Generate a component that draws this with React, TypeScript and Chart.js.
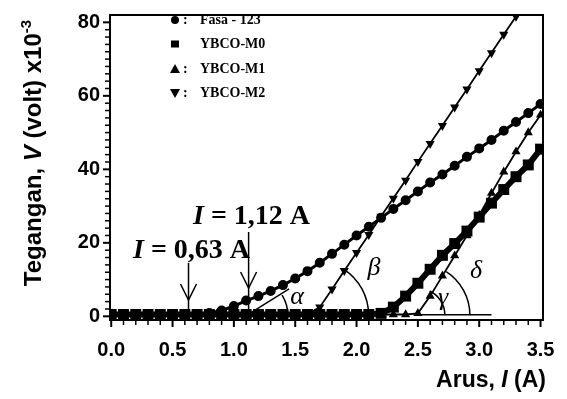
import React, { useEffect, useRef } from "react";
import { Chart, registerables } from "chart.js";

Chart.register(...registerables);

// Current I (A)
const currentA = [
  0.0, 0.1, 0.2, 0.3, 0.4, 0.5, 0.6, 0.7, 0.8, 0.9,
  1.0, 1.1, 1.2, 1.3, 1.4, 1.5, 1.6, 1.7, 1.8, 1.9,
  2.0, 2.1, 2.2, 2.3, 2.4, 2.5, 2.6, 2.7, 2.8, 2.9,
  3.0, 3.1, 3.2, 3.3, 3.4, 3.5,
];

// Voltage V (volt x10^-3)
const fasa123 = [
  0.5, 0.5, 0.5, 0.5, 0.5, 0.5, 0.5, 0.6, 0.9, 1.6,
  2.8, 4.3, 5.5, 6.9, 8.5, 10.3, 12.3, 14.6, 17.0, 19.5,
  22.0, 24.4, 26.8, 29.2, 31.6, 34.0, 36.4, 38.6, 41.0, 43.4,
  45.7, 48.0, 50.5, 52.9, 55.3, 57.8,
];
const ybcoM0 = [
  0.5, 0.5, 0.5, 0.5, 0.5, 0.5, 0.5, 0.5, 0.5, 0.5,
  0.5, 0.5, 0.5, 0.5, 0.5, 0.5, 0.5, 0.5, 0.5, 0.5,
  0.5, 0.5, 0.8, 2.5, 5.5, 9.0, 12.8, 16.6, 19.8, 23.2,
  27.0, 30.8, 34.5, 38.0, 41.2, 45.5,
];
const ybcoM1 = [
  0.5, 0.5, 0.5, 0.5, 0.5, 0.5, 0.5, 0.5, 0.5, 0.5,
  0.5, 0.5, 0.5, 0.5, 0.5, 0.5, 0.5, 0.5, 0.5, 0.5,
  0.5, 0.5, 0.5, 0.5, 0.5, 0.8, 5.5, 11.0, 16.5, 22.0,
  27.5, 33.5, 39.3, 44.8, 50.0, 54.8,
];
const ybcoM2 = [
  0.5, 0.5, 0.5, 0.5, 0.5, 0.5, 0.5, 0.5, 0.5, 0.5,
  0.5, 0.5, 0.5, 0.5, 0.5, 0.5, 0.5, 2.5, 7.4, 12.4,
  17.3, 22.2, 27.2, 32.1, 37.0, 42.1, 47.0, 51.9, 56.9, 61.8,
  66.8, 71.7, 76.7, 81.6,
];

const seriesNames = ["Fasa - 123", "YBCO-M0", "YBCO-M1", "YBCO-M2"];
const xTickLabels = ["0.0", "0.5", "1.0", "1.5", "2.0", "2.5", "3.0", "3.5"];
const yTickLabels = ["0", "20", "40", "60", "80"];
const arrowCurrents = [0.63, 1.12];
const arrowTexts = ["0,63", "1,12"];
const angleNames = ["\u03B1", "\u03B2", "\u03B3", "\u03B4"];

const zip = (xs: number[], ys: number[]) => ys.map((v, i) => ({ x: xs[i], y: v }));

const SANS = "'Liberation Sans', Arial, sans-serif";
const SERIF = "'Liberation Serif', 'Times New Roman', serif";

function drawRich(ctx: CanvasRenderingContext2D, parts: { t: string; f: string; dy?: number }[], x: number, y: number, align: "left" | "center" | "right") {
  let total = 0;
  for (const p of parts) { ctx.font = p.f; total += ctx.measureText(p.t).width; }
  let cx = align === "left" ? x : align === "center" ? x - total / 2 : x - total;
  ctx.textAlign = "left";
  for (const p of parts) {
    ctx.font = p.f;
    ctx.fillText(p.t, cx, y + (p.dy || 0));
    cx += ctx.measureText(p.t).width;
  }
}

const overlay = {
  id: "overlay",
  afterDatasetsDraw(chart: any) {
    const { ctx, chartArea: a, scales } = chart;
    const xs = scales.x, ys = scales.y;
    ctx.save();
    ctx.fillStyle = "#000";
    ctx.strokeStyle = "#000";
    // frame
    ctx.lineWidth = 2;
    ctx.strokeRect(a.left, a.top, a.right - a.left, a.bottom - a.top);
    // x ticks
    for (let i = 0; i <= 35; i++) {
      const px = xs.getPixelForValue(i / 10);
      const major = i % 5 === 0;
      ctx.lineWidth = major ? 2 : 1.5;
      ctx.beginPath();
      ctx.moveTo(px, a.bottom);
      ctx.lineTo(px, a.bottom + (major ? 7 : 5));
      ctx.stroke();
    }
    // y ticks
    for (let v = 0; v <= 80; v += 2) {
      const py = ys.getPixelForValue(v);
      const major = v % 20 === 0;
      ctx.lineWidth = major ? 2 : 1.5;
      ctx.beginPath();
      ctx.moveTo(a.left, py);
      ctx.lineTo(a.left - (major ? 7 : 5), py);
      ctx.stroke();
    }

    // arrows and labels
    const y0 = ys.getPixelForValue(0);
    const arrowTop = [263, 232];
    const headTip = [300, 288];
    const labelLeft = [133, 193];
    const labelBase = [258, 224];
    arrowCurrents.forEach((c, i) => {
      const px = xs.getPixelForValue(c);
      ctx.lineWidth = 1.5;
      ctx.beginPath();
      ctx.moveTo(px, arrowTop[i]);
      ctx.lineTo(px, y0 - 5);
      ctx.stroke();
      ctx.beginPath();
      ctx.moveTo(px - 8, headTip[i] - 16);
      ctx.lineTo(px, headTip[i]);
      ctx.lineTo(px + 8, headTip[i] - 16);
      ctx.stroke();
      ctx.textBaseline = "alphabetic";
      drawRich(ctx, [
        { t: "I", f: `italic bold 28px ${SERIF}` },
        { t: " = " + arrowTexts[i] + " A", f: `bold 28px ${SERIF}` },
      ], labelLeft[i], labelBase[i], "left");
    });

    // tangent line for alpha
    ctx.lineWidth = 1.5;
    ctx.beginPath();
    ctx.moveTo(xs.getPixelForValue(1.13), ys.getPixelForValue(0.8));
    ctx.lineTo(xs.getPixelForValue(1.45), ys.getPixelForValue(7.5));
    ctx.stroke();
    // baseline for gamma/delta
    ctx.beginPath();
    ctx.moveTo(xs.getPixelForValue(2.5), ys.getPixelForValue(0.4));
    ctx.lineTo(xs.getPixelForValue(3.1), ys.getPixelForValue(0.4));
    ctx.stroke();

    // angle arcs
    const arcs = [
      { c: 1.13, r: 38, deg: 32 },
      { c: 1.65, r: 55, deg: 57 },
      { c: 2.5, r: 27, deg: 64 },
      { c: 2.5, r: 52, deg: 57 },
    ];
    for (const ar of arcs) {
      const cx = xs.getPixelForValue(ar.c);
      const cy = ys.getPixelForValue(0.3);
      ctx.beginPath();
      ctx.arc(cx, cy, ar.r, 0, -ar.deg * Math.PI / 180, true);
      ctx.stroke();
    }
    // greek letters
    const greekPos = [[297, 297], [374, 268], [443, 298], [476, 271]];
    ctx.font = `italic 26px ${SERIF}`;
    ctx.textAlign = "center";
    ctx.textBaseline = "middle";
    angleNames.forEach((g, i) => ctx.fillText(g, greekPos[i][0], greekPos[i][1]));

    // legend
    const rows = [20, 44, 69, 93];
    const mx = 175;
    rows.forEach((ry, i) => {
      ctx.beginPath();
      if (i === 0) ctx.arc(mx, ry, 4, 0, Math.PI * 2);
      else if (i === 1) ctx.rect(mx - 4, ry - 3.5, 8, 7);
      else if (i === 2) { ctx.moveTo(mx - 5, ry + 4); ctx.lineTo(mx + 5, ry + 4); ctx.lineTo(mx, ry - 5); ctx.closePath(); }
      else { ctx.moveTo(mx - 5, ry - 4); ctx.lineTo(mx + 5, ry - 4); ctx.lineTo(mx, ry + 5); ctx.closePath(); }
      ctx.fill();
      ctx.font = `bold 14px ${SERIF}`;
      ctx.textAlign = "left";
      ctx.textBaseline = "middle";
      if (i !== 1) ctx.fillText(":", 183, ry);
      ctx.fillText(seriesNames[i], 200, ry);
    });

    // axis titles
    ctx.textBaseline = "alphabetic";
    drawRich(ctx, [
      { t: "Arus, ", f: `bold 23px ${SANS}` },
      { t: "I", f: `italic bold 23px ${SANS}` },
      { t: " (A)", f: `bold 23px ${SANS}` },
    ], 546, 387, "right");

    ctx.save();
    ctx.translate(41, 153);
    ctx.rotate(-Math.PI / 2);
    drawRich(ctx, [
      { t: "Tegangan, ", f: `bold 24px ${SANS}` },
      { t: "V", f: `italic bold 24px ${SANS}` },
      { t: " (volt) x10", f: `bold 24px ${SANS}` },
      { t: "-3", f: `bold 15px ${SANS}`, dy: -10 },
    ], 0, 0, "center");
    ctx.restore();

    ctx.restore();
  },
};

export default function App() {
  const ref = useRef<HTMLCanvasElement | null>(null);
  useEffect(() => {
    if (!ref.current) return;
    const common = { borderColor: "#000", backgroundColor: "#000", pointBorderColor: "#000", pointBackgroundColor: "#000", showLine: true };
    const chart = new Chart(ref.current, {
      type: "scatter",
      data: {
        datasets: [
          { ...common, label: seriesNames[0], data: zip(currentA, fasa123), borderWidth: 3, pointStyle: "circle", pointRadius: 3.5 },
          { ...common, label: seriesNames[1], data: zip(currentA, ybcoM0), borderWidth: 6, pointStyle: "rect", pointRadius: 3.5 },
          { ...common, label: seriesNames[2], data: zip(currentA, ybcoM1), borderWidth: 1.8, pointStyle: "triangle", pointRadius: 3.5 },
          { ...common, label: seriesNames[3], data: zip(currentA, ybcoM2), borderWidth: 1.8, pointStyle: "triangle", pointRotation: 180, pointRadius: 3.5 },
        ] as any,
      },
      options: {
        animation: false,
        responsive: false,
        maintainAspectRatio: false,
        layout: { padding: { top: 10, right: 24, left: 0, bottom: 0 } },
        plugins: { legend: { display: false }, tooltip: { enabled: false } },
        scales: {
          x: {
            type: "linear",
            min: -0.01,
            max: 3.52,
            afterFit: (s: any) => { s.height = 79; },
            afterBuildTicks: (s: any) => { s.ticks = xTickLabels.map((t) => ({ value: Number(t) })); },
            ticks: {
              autoSkip: false,
              maxRotation: 0,
              padding: 11,
              color: "#000",
              font: { family: SANS, weight: "bold", size: 20 },
              callback: (_v: any, i: number) => xTickLabels[i],
            },
            grid: { display: true, drawOnChartArea: false, drawTicks: true, tickLength: 7, tickColor: "rgba(0,0,0,0)" },
            border: { display: false },
          },
          y: {
            type: "linear",
            min: -1,
            max: 82,
            afterFit: (s: any) => { s.width = 110; },
            afterBuildTicks: (s: any) => { s.ticks = yTickLabels.map((t) => ({ value: Number(t) })); },
            ticks: {
              autoSkip: false,
              padding: 3,
              color: "#000",
              font: { family: SANS, weight: "bold", size: 20 },
              callback: (_v: any, i: number) => yTickLabels[i],
            },
            grid: { display: true, drawOnChartArea: false, drawTicks: true, tickLength: 7, tickColor: "rgba(0,0,0,0)" },
            border: { display: false },
          },
        },
      } as any,
      plugins: [overlay],
    });
    return () => chart.destroy();
  }, []);
  return (
    <div style={{ position: "absolute", left: 0, top: 0, width: 567, height: 399, background: "#fff" }}>
      <canvas ref={ref} width={567} height={399} style={{ display: "block" }} />
    </div>
  );
}
